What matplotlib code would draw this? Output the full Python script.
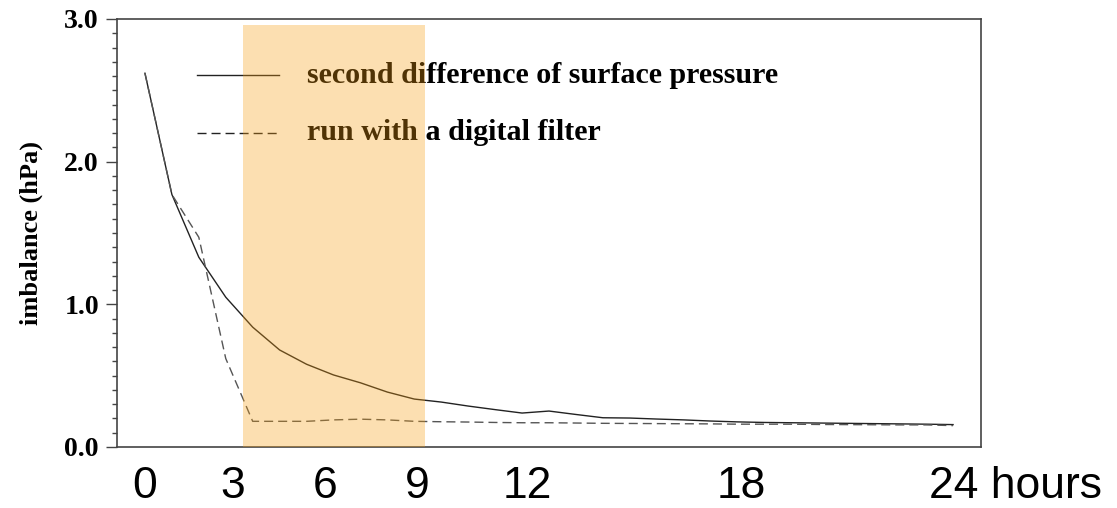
import matplotlib
matplotlib.use("Agg")
import matplotlib.pyplot as plt
from matplotlib.patches import Rectangle
from matplotlib.ticker import MultipleLocator

# forecast time (hours), one output every 0.8 h
hours = [0.0, 0.8, 1.6, 2.4, 3.2, 4.0, 4.8, 5.6, 6.4, 7.2, 8.0, 8.8, 9.6, 10.4, 11.2, 12.0,
         12.8, 13.6, 14.4, 15.2, 16.0, 16.8, 17.6, 18.4, 19.2, 20.0, 20.8, 21.6, 22.4, 23.2, 24.0]

# imbalance (hPa): second difference of surface pressure
no_filter = [2.62, 1.77, 1.33, 1.05, 0.84, 0.68, 0.58, 0.505, 0.45, 0.385, 0.336, 0.315, 0.287,
             0.262, 0.238, 0.252, 0.228, 0.205, 0.203, 0.196, 0.19, 0.182, 0.176, 0.172, 0.17,
             0.168, 0.166, 0.164, 0.162, 0.16, 0.157]
# same diagnostic for the run with a digital filter
with_filter = [2.62, 1.77, 1.47, 0.62, 0.18, 0.18, 0.18, 0.19, 0.195, 0.19, 0.18, 0.177, 0.175,
               0.172, 0.17, 0.17, 0.168, 0.166, 0.165, 0.164, 0.163, 0.162, 0.16, 0.16, 0.16,
               0.158, 0.157, 0.156, 0.155, 0.155, 0.15]

series_names = ['second difference of surface pressure', 'run with a digital filter']
x_labels = ['0', '3', '6', '9', '12', '18', '24 hours']
x_label_pos = [0, 2.61, 5.35, 8.08, 11.37, 17.70, 23.3]
y_ticks = [0.0, 1.0, 2.0, 3.0]

# highlighted spin-up window
window = (2.91, 8.32)
window_top = 2.957

serif = 'Liberation Serif'
sans = 'Liberation Sans'
axis_col = '#444444'

fig = plt.figure(figsize=(11.17, 5.08), dpi=100)
ax = fig.add_axes([117 / 1117, 1 - 447 / 508, 864 / 1117, 428 / 508])

ax.plot(hours, no_filter, color='#222222', lw=1.0, zorder=3)
ax.plot(hours, with_filter, color='#555555', lw=1.0, ls=(0, (6.5, 3.6)), zorder=3)

# legend drawn by hand
ax.plot([0.0926, 0.1875], [0.869, 0.869], transform=ax.transAxes, color='#222222', lw=1.0)
ax.plot([0.0926, 0.1875], [0.734, 0.734], transform=ax.transAxes, color='#222222', lw=1.0,
        ls=(0, (6.5, 3.6)))
for yy, name in zip([0.869, 0.734], series_names):
    ax.text(0.22, yy, name, transform=ax.transAxes, ha='left', va='center',
            fontsize=21.6, fontweight='bold', family=serif, color='black', zorder=2)

ax.add_patch(Rectangle((window[0], 0), window[1] - window[0], window_top,
                       facecolor='#F69E12', alpha=0.33, edgecolor='none', zorder=6))

ax.set_xlim(-0.83, 24.83)
ax.set_ylim(0, 3.0)

ax.set_yticks(y_ticks)
ax.set_yticklabels(['%.1f' % v for v in y_ticks], fontsize=20, fontweight='bold', family=serif)
ax.yaxis.set_minor_locator(MultipleLocator(0.1))
ax.tick_params(axis='y', which='major', direction='out', length=8, width=1.0, color=axis_col, pad=5)
ax.tick_params(axis='y', which='minor', direction='out', length=3.6, width=1.0, color=axis_col)

ax.set_xticks(x_label_pos)
ax.set_xticklabels(x_labels, fontsize=32, family=sans)
ax.get_xticklabels()[-1].set_horizontalalignment('left')
ax.tick_params(axis='x', length=0, pad=14)

ax.set_ylabel('imbalance (hPa)', fontsize=19, fontweight='bold', family=serif)
ax.yaxis.set_label_coords(-0.086, 0.5)

for sp in ax.spines.values():
    sp.set_color(axis_col)
    sp.set_linewidth(1.2)

fig.savefig('out.png', dpi=100)
